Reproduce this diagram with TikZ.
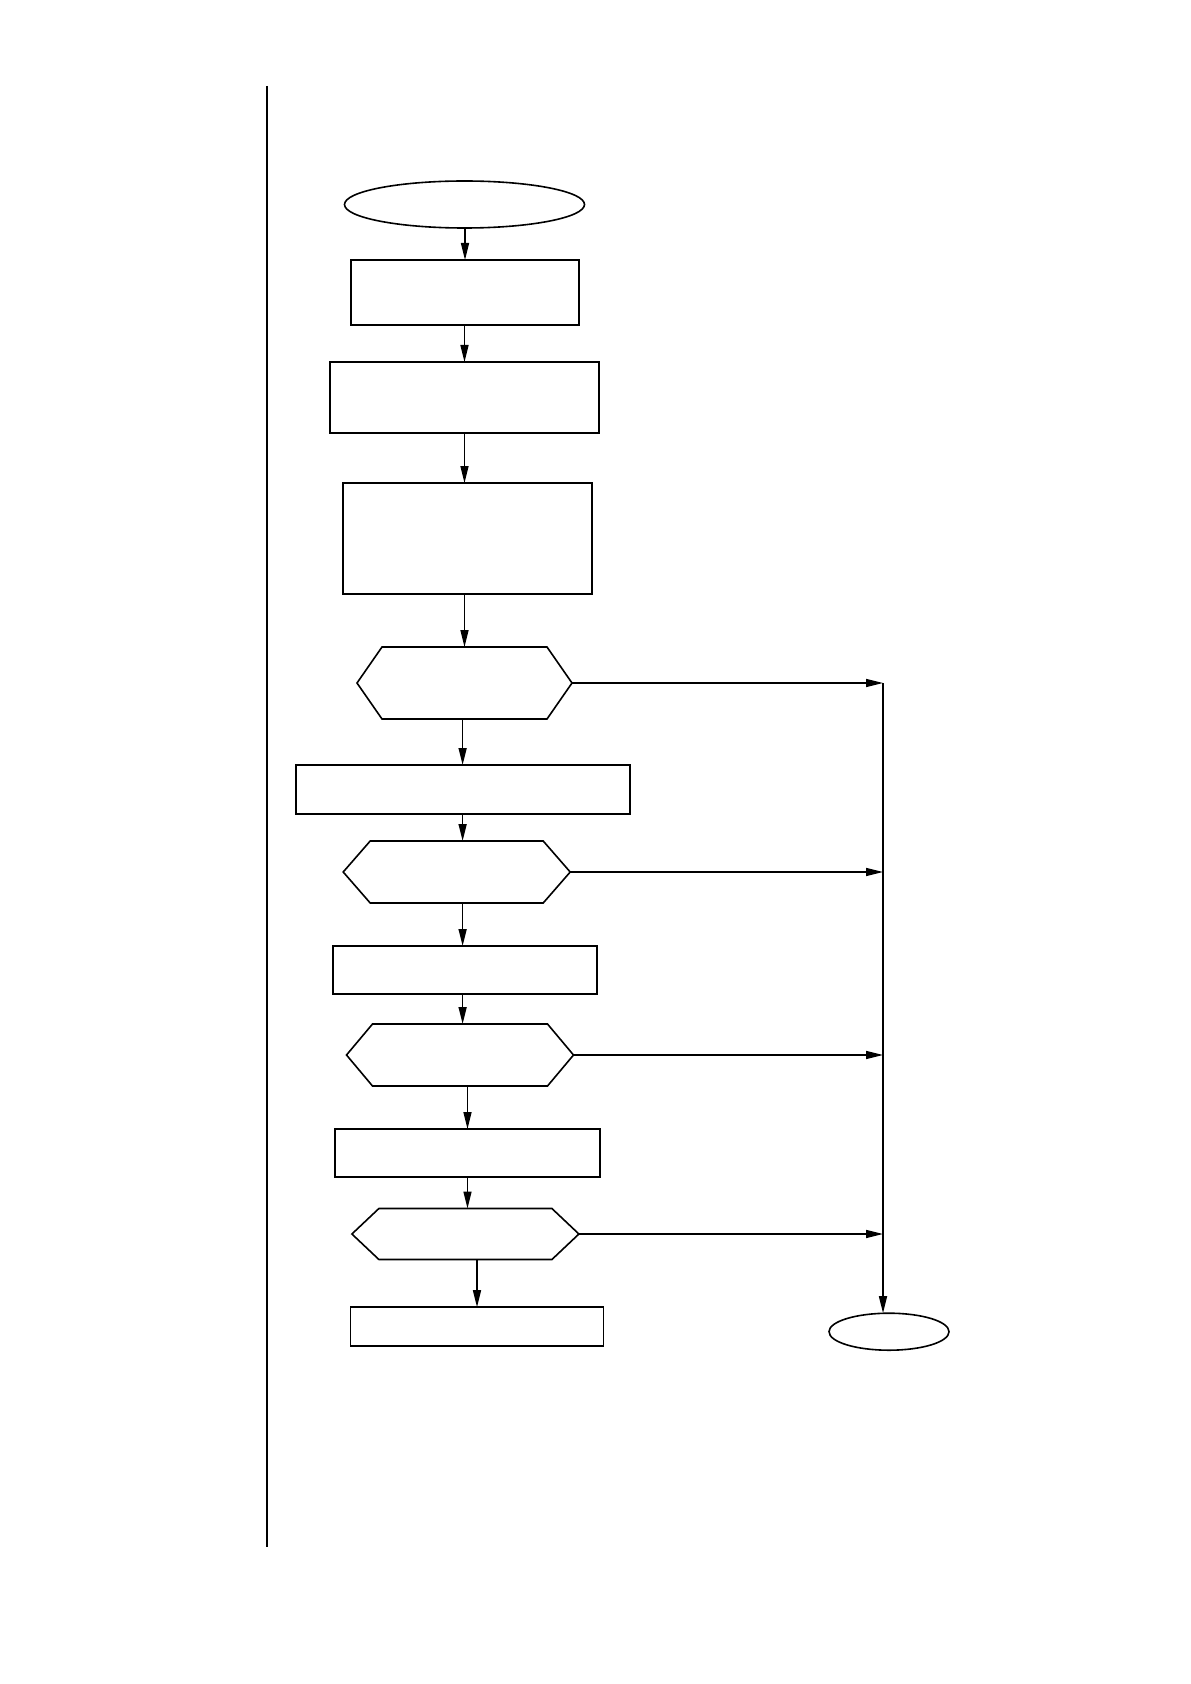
\documentclass[tikz,border=0pt]{standalone}
\usepackage{tikz}
\usetikzlibrary{arrows.meta, positioning, calc, shapes.geometric}

\begin{document}
\begin{tikzpicture}[x=0.5pt, y=-0.5pt, >={Triangle[length=8.5pt, width=4pt]},
    every node/.style={outer sep=0pt, inner sep=0pt},
    proc/.style 2 args={draw, line width=0.9pt, minimum width=#1*0.5pt, minimum height=#2*0.5pt},
    term/.style 2 args={draw, ellipse, line width=0.8pt, minimum width=#1*0.5pt, minimum height=#2*0.5pt},
    decision/.style 2 args={minimum width=#1*0.5pt, minimum height=#2*0.5pt},
    flow/.style={->, line width=0.8pt}]
    \useasboundingbox (0,0) rectangle (1190,1684);

    % margin rule
    \draw[line width=1pt] (267,86) -- (267,1547);

    \node[term={240}{47}] (start) at (464.5,204.5) {};
    \node[proc={228}{65}] (b1) at (465,292.5) {};
    \node[proc={269}{71}] (b2) at (464.5,397.5) {};
    \node[proc={249}{111}] (b3) at (467.5,538.5) {};
    \node[decision={215}{72}] (d1) at (464.5,683) {};
    \node[proc={334}{49}] (b4) at (462.6,789.5) {};
    \node[decision={227}{62}] (d2) at (456.7,872) {};
    \node[proc={264}{48}] (b5) at (464.6,970) {};
    \node[decision={227}{62}] (d3) at (460,1055) {};
    \node[proc={265}{48}] (b6) at (467.5,1153) {};
    \node[decision={227}{51}] (d4) at (465.4,1234) {};
    \node[proc={253}{39}] (b7) at (477,1326.7) {};
    \node[term={120}{37}] (stop) at (889,1331.7) {};
    \coordinate (rail) at (883,683);

    % decision hexagons
    \foreach \h/\d in {d1/25, d2/27, d3/26, d4/27}
        \draw[line width=0.8pt] ($(\h.north west)+(\d,0)$) -- ($(\h.north east)+(-\d,0)$) -- (\h.east)
            -- ($(\h.south east)+(-\d,0)$) -- ($(\h.south west)+(\d,0)$) -- (\h.west) -- cycle;

    % main flow
    \foreach \a/\b/\c in {start/b1/b1, b1/b2/b2, b2/b3/b2, b3/d1/d1, d1/b4/b4, b4/d2/b4,
                          d2/b5/b4, b5/d3/b4, d3/b6/b6, b6/d4/b6, d4/b7/b7}
        \draw[flow] (\c |- \a.south) -- (\c |- \b.north);

    % exits to the right
    \foreach \h in {d1, d2, d3, d4}
        \draw[flow] (\h.east) -- (\h.east -| rail);
    \draw[flow] (rail) -- (rail |- stop.north);
\end{tikzpicture}
\end{document}
